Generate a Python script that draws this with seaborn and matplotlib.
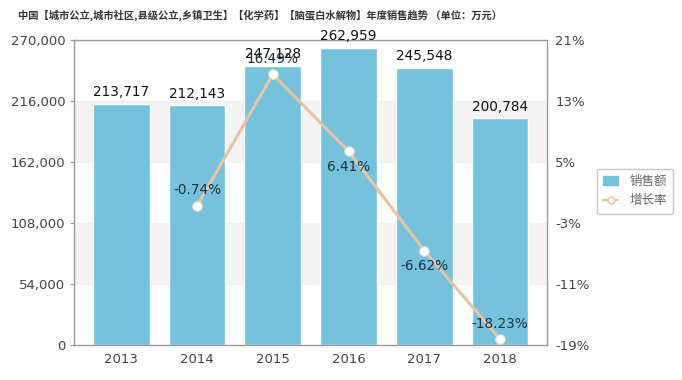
import matplotlib
matplotlib.use("Agg")
import matplotlib.pyplot as plt
import seaborn as sns
import pandas as pd
from matplotlib.ticker import FuncFormatter, FixedLocator
from matplotlib.patches import Rectangle
from matplotlib.lines import Line2D

# data
years = ["2013", "2014", "2015", "2016", "2017", "2018"]
sales = [213717, 212143, 247128, 262959, 245548, 200784]
growth_years = ["2014", "2015", "2016", "2017", "2018"]
growth = [-0.74, 16.49, 6.41, -6.62, -18.23]
title = "中国【城市公立,城市社区,县级公立,乡镇卫生】【化学药】【脑蛋白水解物】年度销售趋势 （单位：万元）"

sns.set_theme(style="white")
plt.rcParams['font.family'] = ['DejaVu Sans', 'Noto Sans CJK SC']

bar_color = "#74c2db"
line_color = "#e9c3a4"
grid_gray = "#f3f3f3"
axis_gray = "#9a9a9a"
tick_color = "#444444"

df = pd.DataFrame({"year": years, "sales": sales})
gdf = pd.DataFrame({"year": growth_years, "growth": growth})

fig = plt.figure(figsize=(6.82, 3.8), dpi=100)
ax = fig.add_axes([0.109, 0.092, 0.693, 0.803])

# alternating bands
yt = [0, 54000, 108000, 162000, 216000, 270000]
for i in range(len(yt) - 1):
    if i % 2 == 1:
        ax.axhspan(yt[i], yt[i + 1], color=grid_gray, zorder=0)

sns.barplot(data=df, x="year", y="sales", color=bar_color, width=0.75,
            saturation=1, ax=ax, zorder=2)
ax.set_ylim(0, 270000)
ax.set_xlim(-0.62, 5.62)
ax.yaxis.set_major_locator(FixedLocator(yt))
ax.yaxis.set_major_formatter(FuncFormatter(lambda v, p: f"{int(v):,}"))
ax.set_xlabel("")
ax.set_ylabel("")
for s in ax.spines.values():
    s.set_color(axis_gray)
    s.set_linewidth(1)
ax.tick_params(axis="both", colors=tick_color, labelsize=9.5, length=3,
               width=0.8, direction="out")
ax.tick_params(axis="y", color=axis_gray)
ax.tick_params(axis="x", length=0, pad=6)
ax.axhline(270000, color="#dddddd", lw=1, zorder=1)

for i, v in enumerate(sales):
    ax.text(i, v + 4000, f"{v:,}", ha="center", va="bottom", fontsize=9.8,
            color="#111111", zorder=5)

ax2 = ax.twinx()
ax2.set_position(ax.get_position())
sns.pointplot(data=gdf, x="year", y="growth", order=years, color=line_color,
              markers="o", linestyles="-", ax=ax2, linewidth=2.2,
              markersize=7, markerfacecolor="white", markeredgecolor="#e0d8d0",
              markeredgewidth=0.8)
ax2.set_ylim(-19, 21)
ax2.set_xlim(-0.62, 5.62)
ax2.yaxis.set_major_locator(FixedLocator([-19, -11, -3, 5, 13, 21]))
ax2.yaxis.set_major_formatter(FuncFormatter(lambda v, p: f"{int(v)}%"))
ax2.set_xlabel("")
ax2.set_ylabel("")
ax2.tick_params(axis="y", colors=tick_color, labelsize=9.5, length=0, pad=6)
for s in ax2.spines.values():
    s.set_visible(False)

label_side = [1, 1, -1, -1, 1]
for yr, g, side in zip(growth_years, growth, label_side):
    xi = years.index(yr)
    ax2.annotate(f"{g:.2f}%", (xi, g), xytext=(0, 6 * side), textcoords="offset points",
                 ha="center", va="bottom" if side > 0 else "top",
                 fontsize=9.8, color="#1c3444", zorder=6)

fig.text(0.381, 0.96, title, ha="center", va="center", fontsize=7.4,
         fontweight="bold", color="#333333", family=['Noto Sans CJK SC', 'DejaVu Sans'])

handles = [Rectangle((0, 0), 1, 1, color=bar_color),
           Line2D([0], [0], color=line_color, lw=1.5, marker="o",
                  markerfacecolor="white", markeredgecolor=line_color, markersize=5)]
leg = fig.legend(handles, ["销售额", "增长率"], loc="center left",
                 bbox_to_anchor=(0.866, 0.497), frameon=True,
                 prop={"family": ['Noto Sans CJK SC', 'DejaVu Sans'], "size": 9},
                 handlelength=1.2, handletextpad=0.9, borderpad=0.5,
                 labelspacing=0.5)
leg.get_frame().set_edgecolor("#bbbbbb")
for t in leg.get_texts():
    t.set_color("#666666")

fig.savefig("out.png", dpi=100)
